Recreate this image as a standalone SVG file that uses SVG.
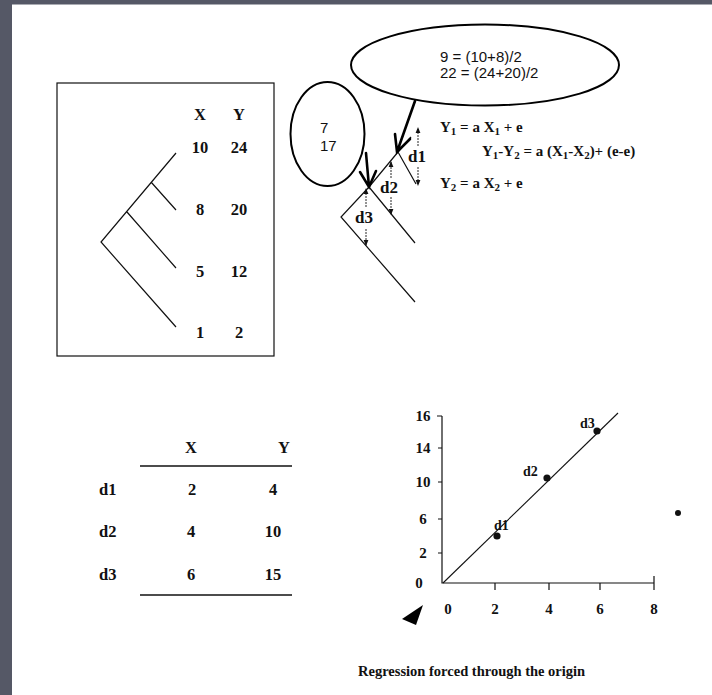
<svg xmlns="http://www.w3.org/2000/svg" width="712" height="695" viewBox="0 0 712 695">
<defs>
<style>
.s{font-family:"Liberation Serif","Times New Roman",serif;font-weight:bold;fill:#111}
.a{font-family:"Liberation Sans",Arial,sans-serif;fill:#111}
.ln{stroke:#111;stroke-width:1.2;fill:none}
.thick{stroke:#000;stroke-width:2.6;fill:none;stroke-linecap:round}
.dar{stroke:#111;stroke-width:0.9;fill:none;stroke-dasharray:2 1;marker-end:url(#ah)}
</style>
<marker id="ah" markerWidth="6" markerHeight="6" refX="5" refY="3" orient="auto" markerUnits="userSpaceOnUse">
<path d="M0,0.6 L6,3 L0,5.4 Z" fill="#111"/>
</marker>
</defs>
<rect x="0" y="0" width="712" height="695" fill="#fff"/>
<rect x="0" y="0" width="712" height="4.5" fill="#555866"/>
<rect x="0" y="0" width="12" height="695" fill="#555866"/>

<g id="tree-box">
<rect x="57" y="83" width="217" height="273" class="ln"/>
<path class="ln" d="M176,153 L101,242 L176,327 M127,212 L176,268 M151,182 L176,210"/>
<text class="s" font-size="16.5" text-anchor="middle" x="200" y="120">X</text>
<text class="s" font-size="16.5" text-anchor="middle" x="239" y="120">Y</text>
<text class="s" font-size="16.5" text-anchor="middle" x="200" y="153">10</text>
<text class="s" font-size="16.5" text-anchor="middle" x="239" y="153">24</text>
<text class="s" font-size="16.5" text-anchor="middle" x="200" y="215">8</text>
<text class="s" font-size="16.5" text-anchor="middle" x="239" y="215">20</text>
<text class="s" font-size="16.5" text-anchor="middle" x="200" y="277">5</text>
<text class="s" font-size="16.5" text-anchor="middle" x="239" y="277">12</text>
<text class="s" font-size="16.5" text-anchor="middle" x="200" y="338">1</text>
<text class="s" font-size="16.5" text-anchor="middle" x="239" y="338">2</text>
</g>

<g id="note-big">
<ellipse cx="485" cy="65" rx="134" ry="40.5" fill="none" stroke="#000" stroke-width="2"/>
<text class="a" font-size="15" x="440" y="62">9 = (10+8)/2</text>
<text class="a" font-size="15" x="440" y="78">22 = (24+20)/2</text>
</g>

<g id="note-small">
<ellipse cx="327.5" cy="134" rx="37" ry="52" fill="none" stroke="#000" stroke-width="2"/>
<text class="a" font-size="15" x="320" y="133">7</text>
<text class="a" font-size="15" x="320" y="151">17</text>
</g>

<g id="tree-right">
<path class="ln" d="M411,137 L398,152 L369,187 L341,217 L415,302 M398,152 L416,184 M369,187 L415,243"/>
<text class="s" font-size="17" x="408" y="162">d1</text>
<text class="s" font-size="17" x="380" y="193">d2</text>
<text class="s" font-size="17" x="355" y="223">d3</text>
</g>

<g id="equations">
<text class="s" font-size="15" x="440" y="132">Y<tspan font-size="11" dy="3">1</tspan><tspan dy="-3"> = a X</tspan><tspan font-size="11" dy="3">1</tspan><tspan dy="-3"> + e</tspan></text>
<text class="s" font-size="15" x="482" y="156">Y<tspan font-size="11" dy="3">1</tspan><tspan dy="-3">-Y</tspan><tspan font-size="11" dy="3">2</tspan><tspan dy="-3"> = a (X</tspan><tspan font-size="11" dy="3">1</tspan><tspan dy="-3">-X</tspan><tspan font-size="11" dy="3">2</tspan><tspan dy="-3">)+ (e-e)</tspan></text>
<text class="s" font-size="15" x="440" y="188">Y<tspan font-size="11" dy="3">2</tspan><tspan dy="-3"> = a X</tspan><tspan font-size="11" dy="3">2</tspan><tspan dy="-3"> + e</tspan></text>
</g>

<g id="connectors">
<path class="thick" d="M415,101 L397,152 M395,134 L397,152 L410,139"/>
<path class="thick" d="M366,153 L369,187 M360,172 L369,187 L376,171"/>
<path class="dar" d="M418,146 L418,128"/>
<path class="dar" d="M418,167 L418,185"/>
<path class="dar" d="M391,178 L391,162"/>
<path class="dar" d="M391,197 L391,214"/>
<path class="dar" d="M366,207 L366,189"/>
<path class="dar" d="M366,229 L366,245"/>
</g>

<g id="table">
<text class="s" font-size="16.5" text-anchor="middle" x="191" y="453">X</text>
<text class="s" font-size="16.5" text-anchor="middle" x="284" y="453">Y</text>
<line x1="140" y1="466" x2="292" y2="466" stroke="#111" stroke-width="1.6"/>
<text class="s" font-size="16.5" x="99" y="495">d1</text>
<text class="s" font-size="16.5" text-anchor="middle" x="192" y="495">2</text>
<text class="s" font-size="16.5" text-anchor="middle" x="273" y="495">4</text>
<text class="s" font-size="16.5" x="99" y="537">d2</text>
<text class="s" font-size="16.5" text-anchor="middle" x="191" y="537">4</text>
<text class="s" font-size="16.5" text-anchor="middle" x="273" y="537">10</text>
<text class="s" font-size="16.5" x="99" y="580">d3</text>
<text class="s" font-size="16.5" text-anchor="middle" x="191" y="580">6</text>
<text class="s" font-size="16.5" text-anchor="middle" x="273" y="580">15</text>
<line x1="140" y1="595" x2="292" y2="595" stroke="#111" stroke-width="1.6"/>
</g>

<g id="plot">
<path class="ln" d="M442,416 L442,583 L654,583"/>
<path class="ln" d="M437,416 L442,416 M438,448 L442,448 M438,482 L442,482 M438,519 L442,519 M438,553 L442,553 M495,583 L495,590 M549,583 L549,590 M600,583 L600,590 M654,576 L654,590"/>
<line x1="443" y1="583" x2="618" y2="413" stroke="#111" stroke-width="1.1"/>
<circle cx="497" cy="536" r="3.6" fill="#111"/>
<circle cx="547" cy="478" r="3.6" fill="#111"/>
<circle cx="597" cy="431" r="3.6" fill="#111"/>
<text class="s" font-size="14" x="494" y="530">d1</text>
<text class="s" font-size="14" x="523" y="476">d2</text>
<text class="s" font-size="14" x="580" y="428">d3</text>
<text class="s" font-size="15" text-anchor="middle" x="423" y="421">16</text>
<text class="s" font-size="15" text-anchor="middle" x="423" y="453">14</text>
<text class="s" font-size="15" text-anchor="middle" x="423" y="487">10</text>
<text class="s" font-size="15" text-anchor="middle" x="423" y="524">6</text>
<text class="s" font-size="15" text-anchor="middle" x="423" y="558">2</text>
<text class="s" font-size="15" text-anchor="middle" x="419" y="588">0</text>
<text class="s" font-size="15" text-anchor="middle" x="448" y="614">0</text>
<text class="s" font-size="15" text-anchor="middle" x="495" y="614">2</text>
<text class="s" font-size="15" text-anchor="middle" x="549" y="614">4</text>
<text class="s" font-size="15" text-anchor="middle" x="600" y="614">6</text>
<text class="s" font-size="15" text-anchor="middle" x="654" y="614">8</text>
<circle cx="678" cy="513" r="3" fill="#111"/>
<polygon points="402,619 423,605 416,625" fill="#000"/>
<text class="s" font-size="14.5" x="358" y="676">Regression forced through the origin</text>
</g>
</svg>
